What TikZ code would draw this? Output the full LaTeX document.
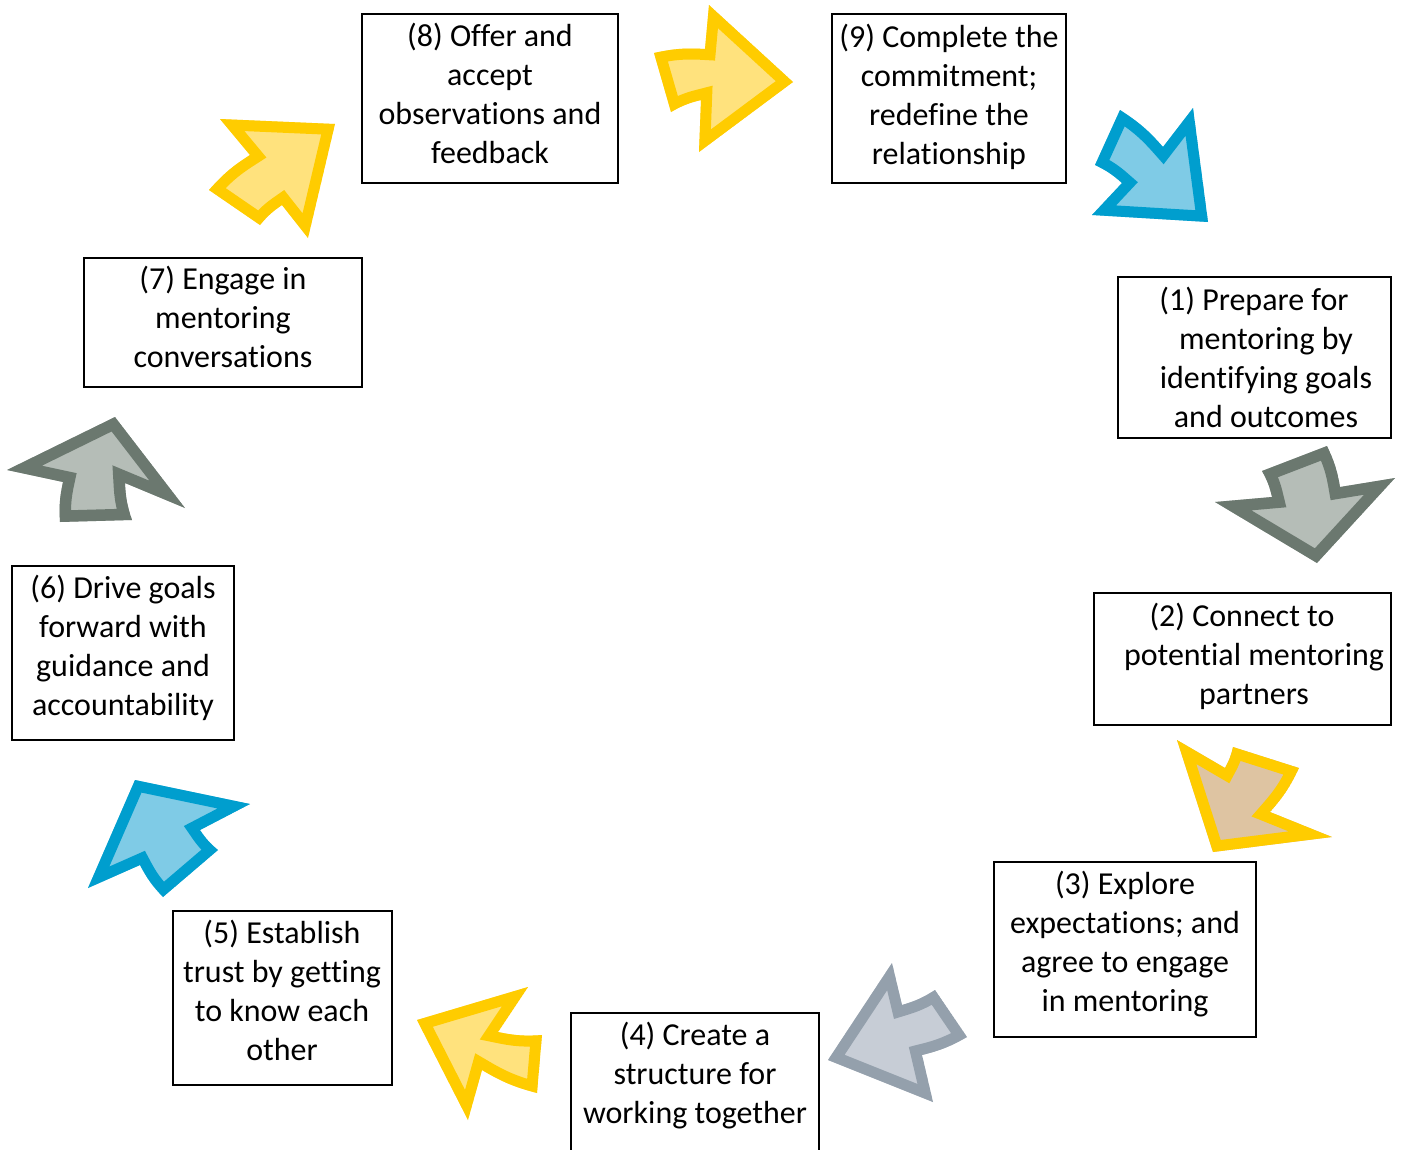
\documentclass[tikz,border=0pt]{standalone}
\usepackage{fontspec}
\setmainfont{Carlito}[Ligatures={NoCommon,NoRequired,NoContextual}]
\usetikzlibrary{fit}

\definecolor{edgeyellow}{RGB}{255,204,0}
\definecolor{paleyellow}{RGB}{255,226,125}
\definecolor{edgeblue}{RGB}{0,158,206}
\definecolor{paleblue}{RGB}{127,203,230}
\definecolor{edgegray}{RGB}{107,120,111}
\definecolor{palegray}{RGB}{181,189,183}
\definecolor{paletan}{RGB}{222,196,162}
\definecolor{edgesteel}{RGB}{148,160,172}
\definecolor{palesteel}{RGB}{199,205,214}

% tip, outer wing, outer notch, outer tail, inner tail, inner notch, inner wing
\newcommand{\turnarrow}[8]{%
  \def\arrowpath{#2 -- #3 -- #4 to[bend right=8] #5 -- #6 to[bend left=8] #7 -- #8 -- cycle}%
  \begin{scope}
    \clip \arrowpath;
    \filldraw[#1] \arrowpath;
  \end{scope}}

\begin{document}
\begin{tikzpicture}[x=0.02cm, y=-0.02cm,
  stepbox/.style={draw, line width=1.1pt, inner sep=0pt},
  steptext/.style={align=center, inner sep=0pt, font=\fontsize{18.2pt}{22.2pt}\selectfont},
  yellowarrow/.style={draw=edgeyellow, fill=paleyellow, line width=0.44cm},
  tanarrow/.style={draw=edgeyellow, fill=paletan, line width=0.44cm},
  bluearrow/.style={draw=edgeblue, fill=paleblue, line width=0.44cm},
  grayarrow/.style={draw=edgegray, fill=palegray, line width=0.46cm},
  steelarrow/.style={draw=edgesteel, fill=palesteel, line width=0.44cm}]

\useasboundingbox (0,0) rectangle (1404,1150);
\clip (0,0) rectangle (1404,1150);

% -------- boxes -----------
\node[stepbox, fit={(362,14) (618,183)}]   (b8) {};
\node[stepbox, fit={(832,14) (1066,183)}]  (b9) {};
\node[stepbox, fit={(1118,277) (1391,438)}] (b1) {};
\node[stepbox, fit={(1094,593) (1391,725)}] (b2) {};
\node[stepbox, fit={(994,862) (1256,1037)}] (b3) {};
\node[stepbox, fit={(571,1013) (819,1180)}] (b4) {};
\node[stepbox, fit={(173,911) (392,1085)}]  (b5) {};
\node[stepbox, fit={(12,566) (234,740)}]    (b6) {};
\node[stepbox, fit={(84,258) (362,387)}]    (b7) {};

% -------- texts -----------
\node[steptext] (t8) at (490,93) {(8) Offer and\\accept\\observations and\\feedback};
\node[steptext] (t9) at (949,97) {(9) Complete the\\commitment;\\redefine the\\relationship};
\node[steptext] (t1) at (1254,357) {(1) Prepare for\\\hspace*{0.75em}mentoring by\\\hspace*{0.75em}identifying goals\\\hspace*{0.75em}and outcomes};
\node[steptext] (t2) at (1242,656) {(2) Connect to\\\hspace*{0.75em}potential mentoring\\\hspace*{0.75em}partners};
\node[steptext] (t3) at (1125,944) {(3) Explore\\expectations; and\\agree to engage\\in mentoring};
\node[steptext] (t4) at (695,1076) {(4) Create a\\structure for\\working together};
\node[steptext] (t5) at (282,990) {(5) Establish\\trust by getting\\to know each\\other};
\node[steptext] (t6) at (123,648) {(6) Drive goals\\forward with\\guidance and\\accountability};
\node[steptext] (t7) at (223,317) {(7) Engage in\\mentoring\\conversations};

% -------- arrows -----------
% 8 -> 9
\turnarrow{yellowarrow}{(793,82)}{(709,5)}{(705,49)}{(654,53)}{(671,112)}{(701,100)}{(699,152)}
% 9 -> 1
\turnarrow{bluearrow}{(1208,222)}{(1193,108)}{(1163,147)}{(1120,110)}{(1095,165)}{(1122,183)}{(1092,215)}
% 1 -> 2
\turnarrow{grayarrow}{(1317,563)}{(1395,478)}{(1340,487)}{(1327,446)}{(1262,471)}{(1272,497)}{(1215,502)}
% 2 -> 3
\turnarrow{tanarrow}{(1213,852)}{(1332,837)}{(1270,812)}{(1299,768)}{(1233,747)}{(1225,768)}{(1177,740)}
% 3 -> 4
\turnarrow{steelarrow}{(828,1060)}{(933,1102)}{(922,1055)}{(967,1037)}{(935,990)}{(902,1005)}{(892,963)}
% 4 -> 5
\turnarrow{yellowarrow}{(417,1020)}{(468,1120)}{(482,1070)}{(537,1093)}{(542,1035)}{(498,1032)}{(528,987)}
% 5 -> 6
\turnarrow{bluearrow}{(135,780)}{(88,888)}{(140,865)}{(163,897)}{(218,850)}{(200,830)}{(250,804)}
% 6 -> 7
\turnarrow{grayarrow}{(115,417)}{(7,470)}{(63,482)}{(60,522)}{(132,520)}{(125,483)}{(185,508)}
% 7 -> 8
\turnarrow{yellowarrow}{(335,124)}{(220,119)}{(250,155)}{(209,190)}{(260,225)}{(282,205)}{(308,238)}

\end{tikzpicture}
\end{document}
